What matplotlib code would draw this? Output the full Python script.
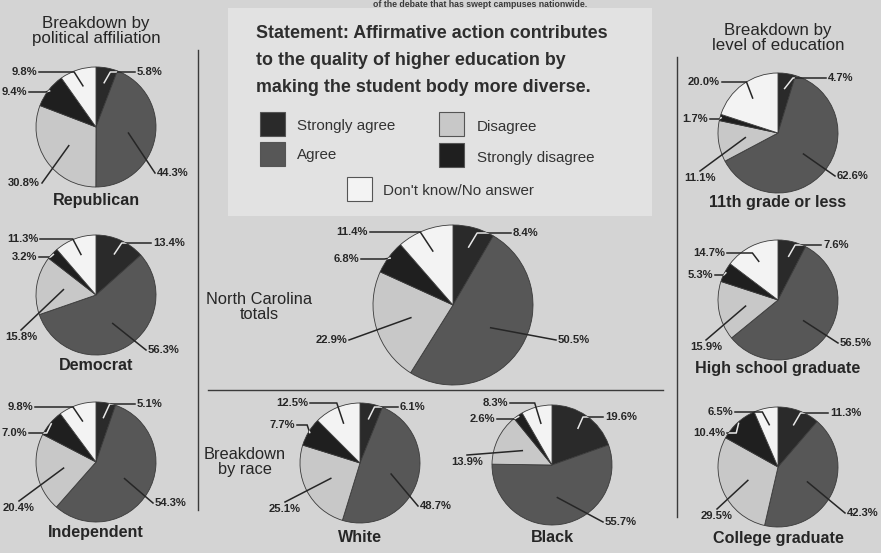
"""Affirmative action poll: pie breakdowns"""
import matplotlib
matplotlib.use("Agg")
from matplotlib import pyplot as plt
from matplotlib import font_manager
from matplotlib.patches import Rectangle
import numpy as np


def pick_font(*names):
    for n in names:
        try:
            font_manager.findfont(font_manager.FontProperties(family=n),
                                  fallback_to_default=False)
            return n
        except ValueError:
            pass
    return "DejaVu Sans"


FONT = pick_font("Liberation Sans Narrow", "Liberation Sans", "Roboto")
K = 1.0 if FONT == "Liberation Sans Narrow" else 0.84
plt.rcParams["font.family"] = [FONT, "DejaVu Sans"]

# ---- data ----
categories = ["Strongly agree", "Agree", "Disagree", "Strongly disagree",
              "Don't know/No answer"]
republican = [5.8, 44.3, 30.8, 9.4, 9.8]
democrat = [13.4, 56.3, 15.8, 3.2, 11.3]
independent = [5.1, 54.3, 20.4, 7.0, 9.8]
nc_totals = [8.4, 50.5, 22.9, 6.8, 11.4]
white = [6.1, 48.7, 25.1, 7.7, 12.5]
black = [19.6, 55.7, 13.9, 2.6, 8.3]
grade11 = [4.7, 62.6, 11.1, 1.7, 20.0]
hs_grad = [7.6, 56.5, 15.9, 5.3, 14.7]
college = [11.3, 42.3, 29.5, 10.4, 6.5]

# ---- style ----
BG = "#d4d4d4"
INK = "#262626"
colors = ["#2a2a2a", "#575757", "#c8c8c8", "#1f1f1f", "#f3f3f3"]
inner = [0.75, 0.55, 0.55, 0.98, 0.72]

# pie layout: centre x, centre y, radius, title, title y, label spots
L, R, C = "left", "right", "center"
pies = [
    (republican, 96, 127, 60, "Republican", 200,
     [(41, -55, L, C), (61, 46, L, C), (-56, 56, R, C), (-69, -35, R, C), (-59, -55, R, C)]),
    (democrat, 96, 295, 60, "Democrat", 365,
     [(57, -52, L, C), (52, 55, L, C), (-75, 37, C, "top"), (-59, -38, R, C), (-58, -56, R, C)]),
    (independent, 96, 462, 60, "Independent", 533,
     [(41, -58, L, C), (59, 41, L, C), (-77, 41, C, "top"), (-69, -29, R, C), (-63, -55, R, C)]),
    (nc_totals, 453, 305, 80, None, None,
     [(60, -72, L, C), (105, 35, L, C), (-106, 35, R, C), (-94, -46, R, C), (-85, -73, R, C)]),
    (white, 360, 463, 60, "White", 537,
     [(40, -56, L, C), (60, 43, L, C), (-75, 41, C, "top"), (-65, -38, R, C), (-52, -60, R, C)]),
    (black, 552, 465, 60, "Black", 537,
     [(53, -48, L, C), (53, 57, L, C), (-85, -8, C, "top"), (-57, -46, R, C), (-44, -62, R, C)]),
    (grade11, 778, 133, 60, "11th grade or less", 202,
     [(50, -55, L, C), (59, 43, L, C), (-78, 40, C, "top"), (-70, -14, R, C), (-58, -51, R, C)]),
    (hs_grad, 778, 300, 60, "High school graduate", 369,
     [(45, -55, L, C), (62, 43, L, C), (-72, 42, C, "top"), (-65, -25, R, C), (-53, -47, R, C)]),
    (college, 778, 467, 60, "College graduate", 539,
     [(52, -54, L, C), (69, 46, L, C), (-61, 44, C, "top"), (-53, -34, R, C), (-45, -55, R, C)]),
]

fig = plt.figure(figsize=(8.81, 5.53), dpi=100, facecolor=BG)
ax = fig.add_axes([0, 0, 1, 1])
ax.set_facecolor(BG)

# legend panel
ax.add_patch(Rectangle((228, 8), 424, 208, facecolor="#e2e2e2", edgecolor="none", zorder=0))

for vals, cx, cy, r, title, ty, spots in pies:
    wedges, _ = ax.pie(vals, colors=colors, startangle=-90, counterclock=True,
                       center=(cx, cy), radius=r,
                       wedgeprops=dict(edgecolor="#3a3a3a", linewidth=0.6))
    for i, (w, v, (dx, dy, ha, va)) in enumerate(zip(wedges, vals, spots)):
        th = np.deg2rad((w.theta1 + w.theta2) / 2)
        x0 = cx + inner[i] * r * np.cos(th)
        y0 = cy + inner[i] * r * np.sin(th)
        tx, ty_ = cx + dx, cy + dy
        ex, ey = tx, ty_
        if ha == L:
            ex -= 2
        elif ha == R:
            ex += 2
        else:
            ey -= 2
        xs, ys = [x0, ex], [y0, ey]
        if dy < 0 and ha != C:
            # elbow: short rise, then horizontal run to the label
            xs = [x0, x0 + 0.2 * (ex - x0), ex]
            ys = [y0, ey, ey]
        ax.plot(xs, ys, color=INK, lw=1.1, zorder=3, solid_joinstyle="miter")
        if i in (0, 3):
            ln, = ax.plot(xs, ys, color="#e8e8e8", lw=1.1, zorder=4)
            ln.set_clip_path(w)
        ax.text(tx, ty_, f"{v:.1f}%", ha=ha, va=va, fontsize=9.6 * K,
                fontweight="bold", color=INK, zorder=5)
    if title:
        ax.text(cx, ty, title, ha="center", va="center", fontsize=13.8 * K,
                fontweight="bold", color=INK)

# section headers
ax.text(96, 31, "Breakdown by\npolitical affiliation", ha="center", va="center",
        fontsize=14.5 * K, color=INK, linespacing=1.0)
ax.text(778, 38, "Breakdown by\nlevel of education", ha="center", va="center",
        fontsize=14.5 * K, color=INK, linespacing=0.95)
ax.text(259, 307, "North Carolina\ntotals", ha="center", va="center",
        fontsize=14 * K, color=INK, linespacing=1.0)
ax.text(245, 462, "Breakdown\nby race", ha="center", va="center",
        fontsize=14 * K, color=INK, linespacing=1.0)

# line from the story above
ax.text(587, 0, "of the debate that has swept campuses nationwide.", ha="right",
        va="top", fontsize=7.5 * K, fontweight="bold", color="#3a3a3a")

# statement
statement = ["Statement: Affirmative action contributes",
             "to the quality of higher education by",
             "making the student body more diverse."]
for j, line in enumerate(statement):
    ax.text(256, 33 + 27.5 * j, line, ha="left", va="center", fontsize=15.3 * K,
            fontweight="bold", color="#2e2e2e")

# legend swatches
swatch_pos = [(260, 112, 297, 126), (260, 142, 297, 155), (439, 112, 477, 127),
              (439, 143, 477, 158), (347, 177, 383, 191)]
for cat, col, (sx, sy, lx, ly) in zip(categories, colors, swatch_pos):
    ax.add_patch(Rectangle((sx, sy), 25, 24, facecolor=col, edgecolor="#555555", lw=0.8))
    ax.text(lx, ly, cat, ha="left", va="center", fontsize=13 * K, color="#333333")

# dividers
ax.plot([198, 198], [50, 510], color="#3a3a3a", lw=1)
ax.plot([677, 677], [57, 517], color="#3a3a3a", lw=1)
ax.plot([208, 663], [390, 390], color="#3a3a3a", lw=1)

ax.set_xlim(0, 881)
ax.set_ylim(553, 0)
ax.set_aspect("auto")
ax.axis("off")

fig.savefig("out.png", dpi=100, facecolor=BG)
